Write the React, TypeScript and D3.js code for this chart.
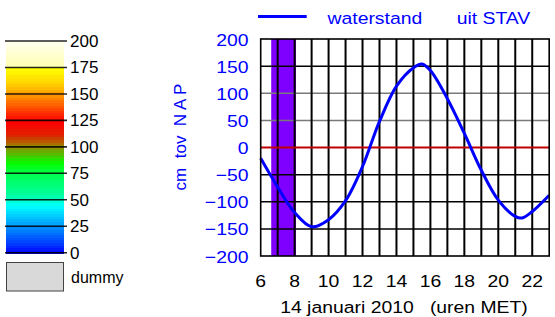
import React from "react";
import * as d3 from "d3";

const hours = [6, 7, 8, 9, 10, 11, 12, 13, 14, 15, 15.5, 16, 17, 18, 19, 20, 21, 21.4, 22, 23];
const waterstand = [-20, -73, -120, -146, -133, -98, -35, 48, 113, 147, 154, 142, 90, 26, -42, -97, -127, -130, -118, -88];
const yTicks = [200, 150, 100, 50, 0, -50, -100, -150, -200];
const xTicks = [6, 8, 10, 12, 14, 16, 18, 20, 22];
const gridHours = [7, 8, 9, 10, 11, 12, 13, 14, 15, 16, 17, 18, 19, 20, 21, 22];
const grayLevels = [100, 50];
const bandStart = 6.62;
const bandEnd = 8.08;
const legendTicks = [200, 175, 150, 125, 100, 75, 50, 25, 0];
const colorStops = [0, 10, 25, 32, 45, 55, 75, 85, 100, 112, 125, 138, 150, 160, 174, 176, 200];
const colorValues = ["#0000ff", "#0040ff", "#0090ff", "#00b8ff", "#00ffff", "#00ffa0", "#00ff50", "#00ff00", "#909000", "#e02000", "#ff0000", "#ff5000", "#ff9800", "#ffd000", "#ffff00", "#ffffb0", "#ffffee"];

const FONT = "'Liberation Sans', Arial, sans-serif";

export default function App() {
  const x = d3.scaleLinear().domain([6, 23]).range([260.7, 549.2]);
  const y = d3.scaleLinear().domain([-200, 200]).range([256, 39]);
  const line = d3
    .line<number>()
    .x((_, i) => x(hours[i]))
    .y((d) => y(d))
    .curve(d3.curveCatmullRom.alpha(0.5));

  const ly = d3.scaleLinear().domain([0, 200]).range([252.7, 41]);
  const cScale = d3.scaleLinear<string>().domain(colorStops).range(colorValues);
  const bands = d3.range(0, 200, 2.5);

  const blue = "#0000ff";
  const sx = 1.14;

  return (
    <svg
      width={555}
      height={317}
      style={{ position: "absolute", left: 0, top: 0, background: "#fff" }}
      fontFamily={FONT}
    >
      {/* Color bar legend */}
      <g shapeRendering="crispEdges">
        {bands.map((v) => (
          <rect
            key={v}
            x={6}
            width={58}
            y={Math.round(ly(v + 2.5))}
            height={Math.round(ly(v)) - Math.round(ly(v + 2.5)) + 1}
            fill={cScale(v + 1.25)}
          />
        ))}
      </g>
      {legendTicks.map((t) => (
        <g key={t}>
          <line x1={5} x2={67} y1={ly(t)} y2={ly(t)} stroke="#000" strokeWidth={1.6} opacity={0.85} />
          <text x={70} y={ly(t) + 6} fontSize={17} fill="#000">
            {t}
          </text>
        </g>
      ))}
      <rect x={6.5} y={262.5} width={57} height={28.5} fill="#d9d9d9" stroke="#444" strokeWidth={1} />
      <text x={71} y={283} fontSize={16} fill="#000">
        dummy
      </text>

      {/* Plot */}
      <rect
        x={x(bandStart)}
        y={y(200)}
        width={x(bandEnd) - x(bandStart)}
        height={y(-200) - y(200)}
        fill="#8000ff"
      />
      {yTicks
        .filter((t) => t !== 0 && t !== 200 && t !== -200)
        .map((t) => (
          <line
            key={t}
            x1={x(6)}
            x2={x(23)}
            y1={y(t)}
            y2={y(t)}
            stroke={grayLevels.includes(t) ? "#7a7a7a" : "#000"}
            strokeWidth={1.5}
          />
        ))}
      {gridHours.map((h) => (
        <line key={h} x1={x(h)} x2={x(h)} y1={y(200)} y2={y(-200)} stroke="#000" strokeWidth={2} />
      ))}
      <line x1={x(6)} x2={x(23)} y1={y(0)} y2={y(0)} stroke="#c00000" strokeWidth={2} />
      <path d={line(waterstand) ?? ""} fill="none" stroke={blue} strokeWidth={3} />
      <rect
        x={x(6)}
        y={y(200)}
        width={x(23) - x(6)}
        height={y(-200) - y(200)}
        fill="none"
        stroke="#000"
        strokeWidth={1.6}
      />

      {/* Y ticks */}
      {yTicks.map((t) => (
        <g key={t} transform={`translate(248.5,${y(t) + 6.5}) scale(${sx},1)`}>
          <text textAnchor="end" fontSize={17} fill={blue}>
            {t < 0 ? `\u2212${Math.abs(t)}` : t}
          </text>
        </g>
      ))}
      {/* X ticks */}
      {xTicks.map((t) => (
        <g key={t} transform={`translate(${x(t)},286.5) scale(${sx},1)`}>
          <text textAnchor="middle" fontSize={17} fill="#000">
            {t}
          </text>
        </g>
      ))}
      <g transform={`translate(404,313) scale(${sx},1)`}>
        <text textAnchor="middle" fontSize={17} fill="#000" style={{ whiteSpace: "pre" }}>
          {"14 januari 2010   (uren MET)"}
        </text>
      </g>
      <g transform="translate(186,137) rotate(-90)">
        <text textAnchor="middle" fontSize={17} fill={blue} style={{ whiteSpace: "pre" }}>
          {"cm  tov  N A P"}
        </text>
      </g>

      {/* Top legend */}
      <line x1={258} x2={306.7} y1={16.5} y2={16.5} stroke={blue} strokeWidth={3} />
      <g transform={`translate(327.5,24) scale(${sx},1)`}>
        <text fontSize={17} fill={blue}>
          waterstand
        </text>
      </g>
      <g transform={`translate(456.7,24) scale(${sx},1)`}>
        <text fontSize={17} fill={blue}>
          uit STAV
        </text>
      </g>
    </svg>
  );
}
